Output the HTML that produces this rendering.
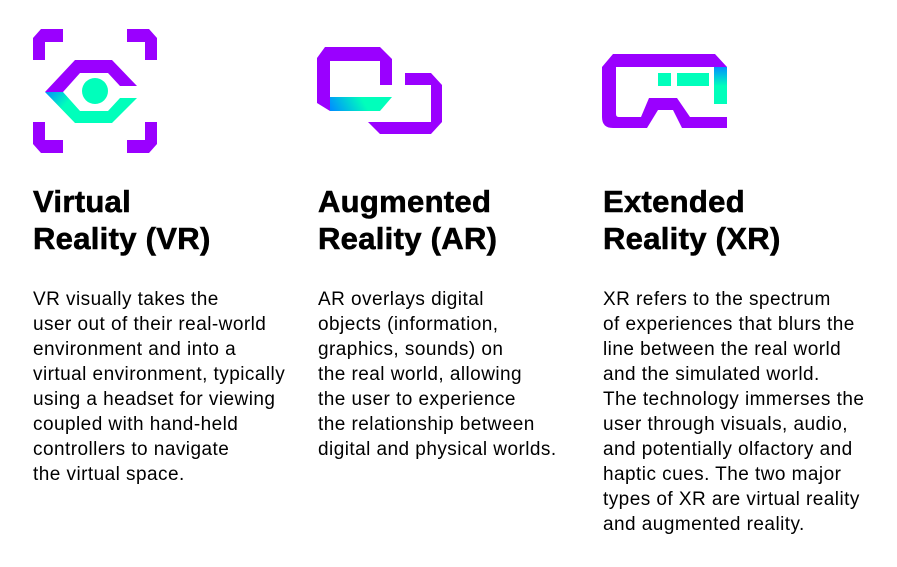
<!DOCTYPE html>
<html><head><meta charset="utf-8"><style>
html,body{margin:0;padding:0;background:#fff;width:897px;height:567px;overflow:hidden;position:relative;font-family:"Liberation Sans",sans-serif;color:#000}
.t{position:absolute;top:183px;font-weight:bold;font-size:31px;line-height:37px;letter-spacing:0.3px;-webkit-text-stroke:0.6px #000}
.b{position:absolute;top:287px;font-size:19px;line-height:25px;letter-spacing:0.45px;white-space:nowrap}
svg{position:absolute;left:0;top:0}
</style></head><body>
<svg width="897" height="170" viewBox="0 0 897 170">
<defs>
<linearGradient id="g1" gradientUnits="userSpaceOnUse" x1="45" y1="92" x2="62" y2="108"><stop offset="0" stop-color="#0090ff"/><stop offset="1" stop-color="#00ffbb"/></linearGradient>
<linearGradient id="g2" gradientUnits="userSpaceOnUse" x1="332" y1="111" x2="360" y2="95"><stop offset="0" stop-color="#0090ff"/><stop offset="1" stop-color="#00ffbb"/></linearGradient>
<linearGradient id="g3" gradientUnits="userSpaceOnUse" x1="0" y1="67" x2="0" y2="86"><stop offset="0" stop-color="#0090ff"/><stop offset="1" stop-color="#00ffbb"/></linearGradient>
</defs>
<g fill="#9a00ff">
<polygon points="41,29 63,29 63,42 45,42 45,60 33,60 33,38"/>
<polygon points="149,29 127,29 127,42 145,42 145,60 157,60 157,38"/>
<polygon points="41,153 63,153 63,140 45,140 45,122 33,122 33,144"/>
<polygon points="149,153 127,153 127,140 145,140 145,122 157,122 157,144"/>
<polygon points="75,60 112,60 137,86 120,86 108,73 80,73 63,92 45,92"/>
<polygon points="325,47 380,47 392,59 392,85 380,85 380,61 330,61 330,111 317,103 317,58"/>
<polygon points="405,73 431,73 442,85 442,122 431,134 380,134 368,122 431,122 431,85 405,85"/>
<path d="M613,54 H715 L727,67 H616 V114 Q616,117 619,117 H641 L649,98 H677 L690,117 H727 V128 H682 L673,110 H658 L647,128 H613 Q602,128 602,117 V67 Z"/>
</g>
<polygon fill="url(#g1)" points="45,92 63,92 80,111 108,111 120,98 137,98 112,123 75,123"/>
<circle cx="95" cy="91" r="13" fill="#00ffbb"/>
<polygon fill="url(#g2)" points="330,97 392,97 380,111 330,111"/>
<rect x="714" y="67" width="13" height="37" fill="url(#g3)"/>
<rect x="658" y="73" width="13" height="13" fill="#00ffbb"/>
<rect x="677" y="73" width="32" height="13" fill="#00ffbb"/>
</svg>
<div class="t" style="left:33px">Virtual<br>Reality (VR)</div>
<div class="t" style="left:318px">Augmented<br>Reality (AR)</div>
<div class="t" style="left:603px">Extended<br>Reality (XR)</div>
<div class="b" style="left:33px">VR visually takes the<br>user out of their real-world<br>environment and into a<br>virtual environment, typically<br>using a headset for viewing<br>coupled with hand-held<br>controllers to navigate<br>the virtual space.</div>
<div class="b" style="left:318px">AR overlays digital<br>objects (information,<br>graphics, sounds) on<br>the real world, allowing<br>the user to experience<br>the relationship between<br>digital and physical worlds.</div>
<div class="b" style="left:603px">XR refers to the spectrum<br>of experiences that blurs the<br>line between the real world<br>and the simulated world.<br>The technology immerses the<br>user through visuals, audio,<br>and potentially olfactory and<br>haptic cues. The two major<br>types of XR are virtual reality<br>and augmented reality.</div>
</body></html>
